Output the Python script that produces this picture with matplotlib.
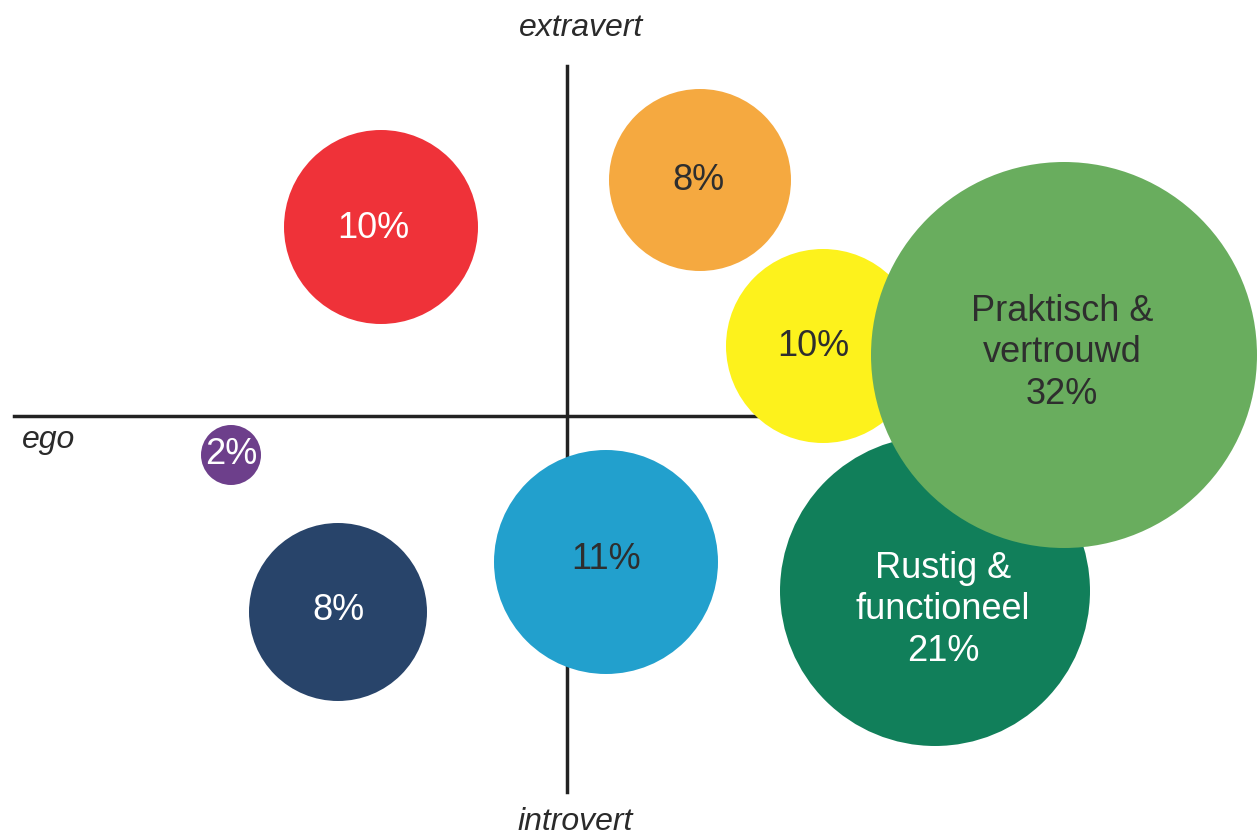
import matplotlib
matplotlib.use("Agg")
import matplotlib.pyplot as plt
from matplotlib.patches import Circle

# ==========================================
# Data (origin = crossing of the two axes, 1 unit ~ 100 px)
# ==========================================
labels = ["10%", "8%", "10%", "Rustig &\nfunctioneel\n21%", "Praktisch &\nvertrouwd\n32%",
          "2%", "8%", "11%"]
x_pos = [-1.86, 1.33, 2.56, 3.68, 4.97, -3.36, -2.29, 0.39]
y_pos = [1.89, 2.36, 0.70, -1.75, 0.61, -0.39, -1.96, -1.46]
radius = [0.97, 0.91, 0.97, 1.55, 1.93, 0.30, 0.89, 1.12]
colors = ["#ef3239", "#f5a940", "#fdf21c", "#117f5a", "#69ad5e",
          "#6d3f8b", "#28446a", "#22a0cd"]
text_colors = ["white", "#2e2e2e", "#2e2e2e", "white", "#2e2e2e",
               "white", "white", "#2e2e2e"]
# small label nudges (layout only)
label_dx = [-0.08, -0.02, -0.10, 0.08, -0.02, 0.0, 0.0, 0.0]
label_dy = [-0.02, -0.01, -0.01, -0.19, 0.02, 0.0, 0.01, 0.02]

# axis extents
h_line = (-5.53, 2.4, 0.0)
v_line = (0.0, -3.76, 3.50)

plt.rcParams["font.family"] = ["Liberation Sans", "DejaVu Sans"]

fig = plt.figure(figsize=(12.57, 8.36), dpi=100)
ax = fig.add_axes([0, 0, 1, 1])
ax.set_xlim(-5.67, 6.90)
ax.set_ylim(-4.20, 4.16)
ax.set_aspect("equal")
ax.axis("off")

# quadrant axes
ax.plot([h_line[0], h_line[1]], [h_line[2], h_line[2]], color="#222222", lw=2.5, zorder=1)
ax.plot([v_line[0], v_line[0]], [v_line[1], v_line[2]], color="#222222", lw=2.5, zorder=1)

ax.text(0.14, 3.88, "extravert", ha="center", va="center", fontsize=23,
        style="italic", color="#2a2a2a")
ax.text(0.08, -4.06, "introvert", ha="center", va="center", fontsize=23,
        style="italic", color="#2a2a2a")
ax.text(-5.45, -0.24, "ego", ha="left", va="center", fontsize=23,
        style="italic", color="#2a2a2a")

# bubbles: the big light green one sits on top
order = [0, 1, 3, 2, 4, 5, 6, 7]
for z, i in enumerate(order):
    ax.add_patch(Circle((x_pos[i], y_pos[i]), radius[i], facecolor=colors[i],
                        edgecolor="none", zorder=2 + z))
    ax.text(x_pos[i] + label_dx[i], y_pos[i] + label_dy[i], labels[i],
            ha="center", va="center", fontsize=26, color=text_colors[i],
            linespacing=1.25, zorder=20)

fig.savefig("out.png", dpi=100)
